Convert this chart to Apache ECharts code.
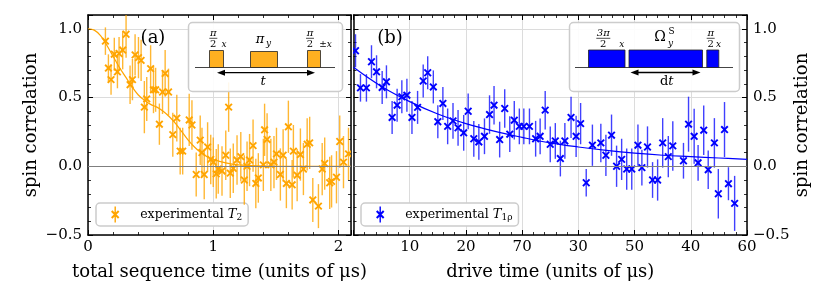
<!DOCTYPE html>
<html><head><meta charset="utf-8">
<script src="https://cdn.jsdelivr.net/npm/echarts@6/dist/echarts.min.js"></script>
<style>html,body{margin:0;padding:0;background:#fff}#c{width:830px;height:303px}</style>
</head><body><div id="c"></div><script>
// ---- data: panel (a) T2 ----
const t2Time = [0.139,0.163,0.184,0.21,0.235,0.248,0.277,0.304,0.336,0.355,0.376,0.403,0.424,0.45,0.469,0.50,0.523,0.54,0.57,0.595,0.616,0.643,0.677,0.709,0.736,0.756,0.808,0.83,0.864,0.896,0.91,0.928,0.955,0.98,1.0,1.024,1.04,1.07,1.1,1.123,1.136,1.16,1.19,1.22,1.248,1.27,1.29,1.318,1.34,1.36,1.40,1.41,1.43,1.46,1.485,1.505,1.536,1.558,1.584,1.60,1.63,1.64,1.67,1.696,1.72,1.75,1.77,1.795,1.84,1.87,1.89,1.93,1.945,1.984,2.01,2.04,2.08];
const t2Corr = [0.91,0.714,0.63,0.815,0.687,0.82,0.845,0.96,0.593,0.63,0.81,0.79,0.77,0.43,0.49,0.71,0.556,0.556,0.306,0.54,0.675,0.54,0.23,0.35,0.11,0.11,0.337,0.30,-0.06,0.19,0.10,-0.06,0.14,0.05,0.03,-0.055,-0.02,-0.034,0.08,0.43,-0.05,-0.015,0.045,0.07,-0.10,0.0,0.045,0.15,-0.125,-0.085,0.01,0.265,0.195,0.01,0.03,0.09,-0.06,0.08,-0.125,0.287,-0.135,0.11,-0.065,0.085,-0.02,0.16,0.17,-0.245,-0.29,-0.02,0.02,-0.12,-0.11,-0.08,0.18,0.03,0.09];
const t2Err  = [0.10,0.10,0.11,0.12,0.12,0.12,0.14,0.17,0.14,0.15,0.15,0.15,0.15,0.19,0.16,0.17,0.17,0.16,0.15,0.16,0.17,0.17,0.16,0.17,0.17,0.17,0.19,0.18,0.16,0.18,0.18,0.18,0.18,0.18,0.18,0.18,0.18,0.18,0.18,0.18,0.18,0.18,0.18,0.18,0.18,0.18,0.19,0.19,0.18,0.18,0.19,0.19,0.19,0.19,0.19,0.19,0.19,0.19,0.18,0.19,0.18,0.19,0.19,0.19,0.19,0.19,0.19,0.16,0.16,0.19,0.19,0.19,0.19,0.19,0.19,0.19,0.19];
const t2FitTime = [0,0.05,0.1,0.15,0.2,0.25,0.3,0.35,0.4,0.45,0.5,0.55,0.6,0.65,0.7,0.75,0.8,0.85,0.9,0.95,1.0,1.1,1.2,1.3,1.5,1.8,2.1];
const t2FitCorr = [1.0,0.99,0.95,0.88,0.80,0.72,0.65,0.58,0.52,0.48,0.45,0.43,0.40,0.36,0.31,0.25,0.19,0.14,0.10,0.07,0.05,0.025,0.01,0.005,0.0,0.0,0.0];
// ---- data: panel (b) T1rho ----
const t1Time = [0.36,1.24,2.3,3.2,4.1,5.1,5.86,6.87,7.76,8.6,9.5,10.4,11.4,12.4,13.2,14.2,15.0,15.9,16.75,17.7,18.6,19.6,20.4,21.4,22.3,23.3,24.2,25.0,26.0,26.9,27.8,28.6,29.5,30.3,31.3,32.4,33.2,34.1,35.0,35.9,36.8,37.6,38.7,39.6,40.4,41.4,42.5,44.0,44.9,45.9,46.8,47.7,48.6,49.5,50.6,51.3,52.3,53.2,54.1,55.0,56.0,56.8,58.7,59.6,60.6,61.3,62.3,63.1,64.2,64.9,66.0,66.7,67.8];
const t1Corr = [0.84,0.57,0.57,0.76,0.687,0.573,0.614,0.355,0.444,0.505,0.517,0.355,0.428,0.62,0.68,0.577,0.324,0.457,0.29,0.33,0.28,0.243,0.40,0.20,0.177,0.218,0.376,0.444,0.194,0.42,0.233,0.335,0.29,0.29,0.29,0.20,0.218,0.408,0.16,0.184,0.056,0.184,0.355,0.218,0.31,-0.12,0.153,0.17,0.08,0.226,0.0,0.05,-0.02,-0.02,0.153,-0.01,0.14,-0.10,-0.10,0.17,0.07,0.148,0.04,0.306,0.218,0.025,0.262,-0.025,0.17,-0.20,0.267,-0.127,-0.27];
const t1Err  = [0.12,0.10,0.10,0.12,0.12,0.12,0.12,0.12,0.12,0.12,0.12,0.12,0.12,0.12,0.12,0.12,0.12,0.12,0.13,0.13,0.13,0.13,0.13,0.13,0.13,0.13,0.14,0.14,0.13,0.14,0.13,0.14,0.13,0.13,0.13,0.13,0.13,0.14,0.13,0.13,0.13,0.13,0.15,0.15,0.15,0.10,0.15,0.14,0.15,0.15,0.15,0.15,0.15,0.15,0.15,0.13,0.15,0.13,0.15,0.18,0.15,0.18,0.13,0.2,0.2,0.13,0.18,0.14,0.18,0.18,0.2,0.12,0.2];
const t1FitTime = [0,5,10,15,20,25,30,35,40,45,50,55,60,65,70];
const t1FitCorr = [0.72,0.58,0.47,0.38,0.31,0.255,0.21,0.17,0.14,0.115,0.095,0.08,0.07,0.06,0.05];
// ---- tick labels ----
const leftXTicks = [0,1,2];
const leftXTickLabels = ['0','1','2'];
const rightXTicks = [10,20,30,40,50,60,70];
const rightXTickLabels = ['10','20','70','30','50','40','60'];
const yTicks = [-0.5,0,0.5,1.0];
const yTickLabels = ['\u22120.5','0.0','0.5','1.0'];

const ORANGE = '#ffa500', ORANGE_ERR = 'rgba(255,165,0,0.8)', ORANGE_FILL = '#ffb020';
const BLUE = '#0000ff', BLUE_ERR = 'rgba(0,0,255,0.75)';
const FONT = 'DejaVu Serif';

function lookup(vals, labels){
  return function(v){ for (let i=0;i<vals.length;i++){ if (Math.abs(vals[i]-v)<1e-6) return labels[i]; } return ''; };
}
function errRender(col, errCol){
  return function(params, api){
    const x=api.value(0), y=api.value(1), e=api.value(2);
    const p=api.coord([x,y]), lo=api.coord([x,y-e]), hi=api.coord([x,y+e]);
    const s=3.3;
    return {type:'group', children:[
      {type:'line', shape:{x1:p[0],y1:lo[1],x2:p[0],y2:hi[1]}, style:{stroke:errCol,lineWidth:1.4}},
      {type:'line', shape:{x1:p[0]-s,y1:p[1]-s,x2:p[0]+s,y2:p[1]+s}, style:{stroke:col,lineWidth:1.9}},
      {type:'line', shape:{x1:p[0]-s,y1:p[1]+s,x2:p[0]+s,y2:p[1]-s}, style:{stroke:col,lineWidth:1.9}}
    ]};
  };
}
function zipErr(a,b,c){ return a.map((v,i)=>[v,b[i],c[i]]); }
function zip(a,b){ return a.map((v,i)=>[v,b[i]]); }

const ICON = 'path://M6.3,0L7.7,0L7.7,16L6.3,16Z M2.8,5.2L4.2,3.8L11.2,10.8L9.8,12.2Z M9.8,3.8L11.2,5.2L4.2,12.2L2.8,10.8Z';

const axisLine = {show:true, onZero:false, lineStyle:{color:'#000', width:1.5}};
const axisTick = {show:true, inside:true, length:5, lineStyle:{color:'#000', width:1}};
const minorTick = {show:true, splitNumber:5, length:3, lineStyle:{color:'#000', width:0.8}};
const splitLine = {show:true, lineStyle:{color:'#dcdcdc', width:1}};
const labelStyle = {fontFamily:FONT, fontSize:15, color:'#000'};

function xAx(grid, pos, min, max, interval, labels, split, name){
  return {type:'value', gridIndex:grid, position:pos, min, max, interval,
    axisLine, axisTick, minorTick, splitLine: split ? splitLine : {show:false},
    axisLabel: labels ? Object.assign({show:true, margin:5, formatter:labels}, labelStyle) : {show:false},
    name: name||'', nameLocation:'middle', nameGap:28,
    nameTextStyle:{fontFamily:FONT, fontSize:18, color:'#000'}};
}
function yAx(grid, pos, labels, split, name, gap){
  return {type:'value', gridIndex:grid, position:pos, min:-0.5, max:1.1, interval:0.5,
    axisLine, axisTick, minorTick, splitLine: split ? splitLine : {show:false},
    axisLabel: labels ? Object.assign({show:true, margin:6, formatter:labels}, labelStyle) : {show:false},
    name: name||'', nameLocation:'middle', nameGap:gap||0, nameRotate:90,
    nameTextStyle:{fontFamily:FONT, fontSize:18, color:'#000'}};
}

const yFmt = lookup(yTicks, yTickLabels);

function fraction(cx, num, den, sub, subx, fs){
  return [
    {type:'text', z:101, style:{x:cx, y:33.5, text:num, fontFamily:FONT, fontStyle:'italic', fontSize:fs||10, fill:'#000', align:'center', verticalAlign:'middle'}},
    {type:'line', z:101, shape:{x1:cx-4-(num.length>1?3:0), y1:38.3, x2:cx+4+(num.length>1?3:0), y2:38.3}, style:{stroke:'#000', lineWidth:0.7}},
    {type:'text', z:101, style:{x:cx, y:44, text:den, fontFamily:FONT, fontSize:fs||10, fill:'#000', align:'center', verticalAlign:'middle'}},
    {type:'text', z:101, style:{x:subx, y:44.5, text:sub, fontFamily:FONT, fontStyle:'italic', fontSize:9, fill:'#000', align:'center', verticalAlign:'middle'}}
  ];
}
function arrow(x1, x2, y){
  return [
    {type:'line', z:101, shape:{x1:x1+5, y1:y, x2:x2-5, y2:y}, style:{stroke:'#000', lineWidth:1.3}},
    {type:'polygon', z:101, shape:{points:[[x1,y],[x1+8,y-3],[x1+8,y+3]]}, style:{fill:'#000'}},
    {type:'polygon', z:101, shape:{points:[[x2,y],[x2-8,y-3],[x2-8,y+3]]}, style:{fill:'#000'}}
  ];
}
const pulse = (x,y,w,h,fill)=>({type:'rect', z:101, shape:{x,y,width:w,height:h}, style:{fill, stroke:'#222', lineWidth:0.8}});

const graphics = [
  {type:'text', z:100, style:{x:153, y:38, text:'(a)', fontFamily:FONT, fontSize:18, fill:'#000', align:'center', verticalAlign:'middle'}},
  {type:'text', z:100, style:{x:390, y:38, text:'(b)', fontFamily:FONT, fontSize:18, fill:'#000', align:'center', verticalAlign:'middle'}},
  // inset (a)
  {type:'rect', z:100, shape:{x:188.5, y:22.5, width:154, height:69, r:4}, style:{fill:'rgba(255,255,255,0.9)', stroke:'#cccccc', lineWidth:1.5}},
  {type:'line', z:101, shape:{x1:195, y1:67.5, x2:335, y2:67.5}, style:{stroke:'#444', lineWidth:1}},
  pulse(209.5,50.5,14,17,ORANGE_FILL), pulse(250.5,51.5,27,16,ORANGE_FILL), pulse(307.5,50.5,13,17,ORANGE_FILL),
  ...arrow(217,315,72.7),
  {type:'text', z:101, style:{x:263, y:82, text:'t', fontFamily:FONT, fontStyle:'italic', fontSize:13, fill:'#000', align:'center', verticalAlign:'middle'}},
  ...fraction(213.3,'π','2','x',224),
  {type:'text', z:101, style:{x:260, y:39.5, text:'π', fontFamily:FONT, fontStyle:'italic', fontSize:13, fill:'#000', align:'center', verticalAlign:'middle'}},
  {type:'text', z:101, style:{x:268.5, y:44, text:'y', fontFamily:FONT, fontStyle:'italic', fontSize:9, fill:'#000', align:'center', verticalAlign:'middle'}},
  ...fraction(310,'π','2','±x',325.5),
  // inset (b)
  {type:'rect', z:100, shape:{x:569.5, y:22.5, width:170, height:69, r:4}, style:{fill:'rgba(255,255,255,0.9)', stroke:'#cccccc', lineWidth:1.5}},
  {type:'line', z:101, shape:{x1:575, y1:67.5, x2:733, y2:67.5}, style:{stroke:'#444', lineWidth:1}},
  pulse(588.5,50,36.5,17.5,BLUE), pulse(629,50,73.5,17.5,BLUE), pulse(706.8,50,12,17.5,BLUE),
  ...arrow(630.5,700.5,72.5),
  {type:'text', z:101, style:{x:666.7, y:82, text:'{d|d}{t|t}', rich:{d:{fontFamily:FONT, fontSize:13, fill:'#000'}, t:{fontFamily:FONT, fontStyle:'italic', fontSize:13, fill:'#000'}}, align:'center', verticalAlign:'middle'}},
  ...fraction(603.3,'3π','2','x',621.7),
  {type:'text', z:101, style:{x:660, y:37, text:'Ω', fontFamily:FONT, fontSize:14, fill:'#000', align:'center', verticalAlign:'middle'}},
  {type:'text', z:101, style:{x:671.7, y:31.5, text:'S', fontFamily:FONT, fontSize:9, fill:'#000', align:'center', verticalAlign:'middle'}},
  {type:'text', z:101, style:{x:670.5, y:44, text:'y', fontFamily:FONT, fontStyle:'italic', fontSize:9, fill:'#000', align:'center', verticalAlign:'middle'}},
  ...fraction(710.7,'π','2','x',718.5)
];

const legendRich = {
  n:{fontFamily:FONT, fontSize:12.5, color:'#000', padding:[0,0,0,13]},
  i:{fontFamily:FONT, fontStyle:'italic', fontSize:13, color:'#000'},
  s:{fontFamily:FONT, fontSize:9, color:'#000', verticalAlign:'bottom', padding:[6,0,0,0]}
};
function legendCfg(left, name, fmt){
  return {left, top:203, orient:'horizontal', data:[{name, icon:ICON}], itemWidth:14, itemHeight:16,
    backgroundColor:'#fff', borderColor:'#cccccc', borderWidth:1.5, borderRadius:4, padding:[3.5,6,3.5,15],
    selectedMode:false, formatter:()=>fmt, textStyle:{rich:legendRich}};
}

const option = {
  animation:false,
  backgroundColor:'#fff',
  textStyle:{fontFamily:FONT},
  grid:[
    {left:88, top:15, width:263, height:220},
    {left:353.5, top:15, width:393.5, height:220}
  ],
  xAxis:[
    xAx(0,'bottom',0,2.1,1,lookup(leftXTicks,leftXTickLabels),true,'total sequence time (units of μs)'),
    xAx(0,'top',0,2.1,1,null,false),
    xAx(1,'bottom',0,70,10,lookup(rightXTicks,rightXTickLabels),true,'drive time (units of μs)'),
    xAx(1,'top',0,70,10,null,false)
  ],
  yAxis:[
    yAx(0,'left',yFmt,true,'spin correlation',48),
    yAx(0,'right',null,false),
    yAx(1,'left',null,false),
    yAx(1,'right',yFmt,true,'spin correlation',46)
  ],
  legend:[
    legendCfg(96,'experimental T2','{n|experimental }{i|T}{s|2}'),
    legendCfg(361,'experimental T1rho','{n|experimental }{i|T}{s|1ρ}')
  ],
  graphic:graphics,
  series:[
    {type:'line', name:'fit T2', xAxisIndex:0, yAxisIndex:0, data:zip(t2FitTime,t2FitCorr), smooth:0.4, showSymbol:false,
      lineStyle:{color:ORANGE, width:1.2}, itemStyle:{color:ORANGE}, z:3,
      markLine:{silent:true, symbol:'none', label:{show:false}, lineStyle:{color:'#7f7f7f', width:1, type:'solid'}, data:[{yAxis:0}]}},
    {type:'custom', name:'experimental T2', xAxisIndex:0, yAxisIndex:0, data:zipErr(t2Time,t2Corr,t2Err), renderItem:errRender(ORANGE,ORANGE_ERR), itemStyle:{color:ORANGE}, clip:true, z:4},
    {type:'line', name:'fit T1rho', xAxisIndex:2, yAxisIndex:2, data:zip(t1FitTime,t1FitCorr), smooth:0.4, showSymbol:false,
      lineStyle:{color:BLUE, width:1.2}, itemStyle:{color:BLUE}, z:3,
      markLine:{silent:true, symbol:'none', label:{show:false}, lineStyle:{color:'#7f7f7f', width:1, type:'solid'}, data:[{yAxis:0}]}},
    {type:'custom', name:'experimental T1rho', xAxisIndex:2, yAxisIndex:2, data:zipErr(t1Time,t1Corr,t1Err), renderItem:errRender(BLUE,BLUE_ERR), itemStyle:{color:BLUE}, clip:true, z:4}
  ]
};
const chart = echarts.init(document.getElementById('c'), null, {renderer:'canvas'});
chart.setOption(option);
</script></body></html>
